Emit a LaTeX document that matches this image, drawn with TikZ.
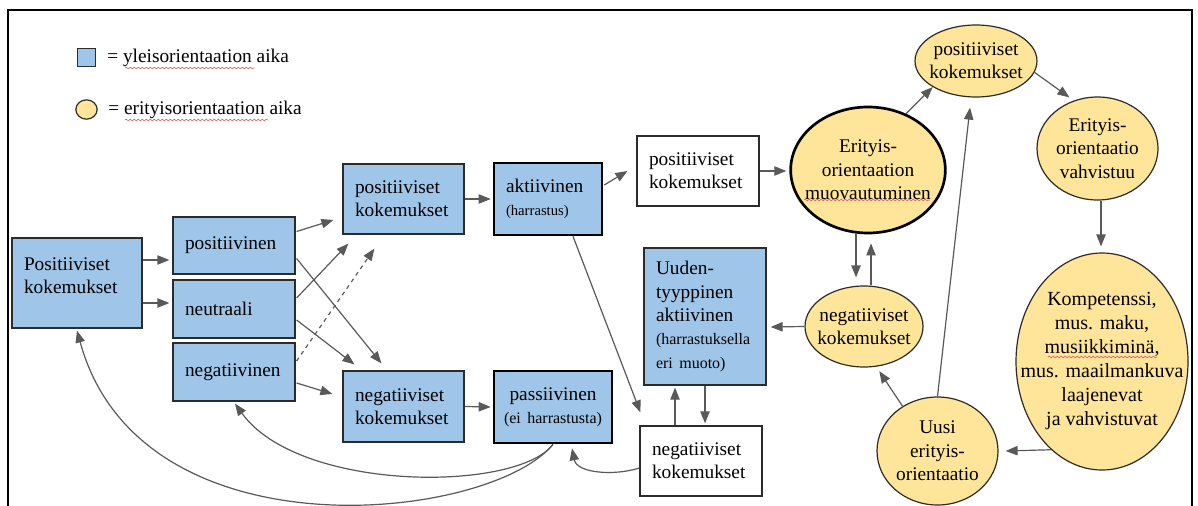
\documentclass[tikz,border=0pt]{standalone}
\usepackage{fontspec}
\setmainfont{Liberation Serif}
\usetikzlibrary{arrows.meta,positioning,calc,shapes.geometric,decorations.pathmorphing}
\definecolor{BoxBlue}{HTML}{9FC5E8}
\definecolor{OvalYellow}{HTML}{FFE599}
\definecolor{ArrGray}{HTML}{595959}
\definecolor{Edge}{HTML}{2B2B2B}
\definecolor{Squiggle}{HTML}{E06666}
\newcommand{\diagfont}{\fontsize{14.5}{17.5}\selectfont}
\newcommand{\notefont}{\fontsize{11}{13}\selectfont}
\newcommand{\midnotefont}{\fontsize{12}{14}\selectfont}
\tikzset{
  arr/.style={-{Triangle[length=9pt,width=7pt]},line width=0.9pt,draw=ArrGray},
  bluebox/.style={draw=Edge,fill=BoxBlue,line width=0.9pt,align=left,inner xsep=9pt,font=\diagfont},
  whitebox/.style={draw=Edge,fill=white,line width=0.9pt,align=left,inner xsep=9pt,font=\diagfont},
  keybox/.style={bluebox,draw=black,line width=2pt},
  oval/.style={ellipse,draw=Edge,fill=OvalYellow,line width=0.9pt,inner sep=0pt},
  ovaltext/.style={align=center,font=\diagfont},
  spell/.style={draw=Squiggle,line width=0.5pt,decorate,decoration={snake,amplitude=0.6pt,segment length=3pt}}
}
\begin{document}
\begin{tikzpicture}[x=0.75pt,y=-0.75pt]
  \useasboundingbox (0,0) rectangle (1198,506);
  \draw[line width=1.5pt] (8,506) -- (8,10) -- (1192,10) -- (1192,506);
  % legend
  \node[draw=Edge,fill=BoxBlue,line width=0.9pt,minimum size=14pt,inner sep=0pt] (keyblue) at (86.5,57.5) {};
  \node[anchor=base west,inner sep=0pt,font=\diagfont] (keybluetxt) at (107,63) {= yleisorientaation aika};
  \node[oval,minimum width=16pt,minimum height=14.5pt] (keyoval) at (86.5,109.5) {};
  \node[anchor=base west,inner sep=0pt,font=\diagfont] (keyovaltxt) at (108,115) {= erityisorientaation aika};
  \draw[spell] (125,68) -- (254,68);
  \draw[spell] (125,120) -- (268,120);
  % general orientation
  \node[bluebox,text width=79.5pt,minimum height=67.5pt] (poskok) at (77,283) {Positiiviset\\kokemukset\\[-6pt]\mbox{}};
  \node[bluebox,text width=73.5pt,minimum height=42.75pt] (posit) at (234,245.5) {positiivinen};
  \node[bluebox,text width=73.5pt,minimum height=43.5pt] (neutr) at (234,309) {neutraali};
  \node[bluebox,text width=73.5pt,minimum height=43.5pt] (negat) at (234,372) {negatiivinen};
  \node[bluebox,text width=72.75pt,minimum height=52.5pt] (poskok2) at (403.5,199) {positiiviset\\kokemukset};
  \node[bluebox,text width=72.75pt,minimum height=53.25pt] (negkok2) at (403.5,406.5) {negatiiviset\\kokemukset};
  \node[keybox,text width=63pt,minimum height=54pt] (aktiiv) at (548,199) {aktiivinen\\{\notefont(harrastus)}};
  \node[keybox,align=center,inner xsep=4pt,text width=80.5pt,minimum height=54pt] (passiiv) at (553,407) {passiivinen\\{\midnotefont(ei harrastusta)}};
  \node[whitebox,text width=73.5pt,minimum height=52.5pt] (poskok3) at (698,171) {positiiviset\\kokemukset};
  \node[bluebox,text width=73.5pt,minimum height=102.75pt] (uuden) at (705,316.5) {Uuden-\\tyyppinen\\aktiivinen\\{\midnotefont(harrastuksella}\\{\midnotefont eri muoto)}};
  \node[whitebox,text width=73.5pt,minimum height=52.5pt] (negkok3) at (701,461) {negatiiviset\\kokemukset};
  % special orientation
  \node[oval,draw=black,line width=2pt,minimum width=116pt,minimum height=94.5pt,label={[ovaltext]center:{Erityis-\\orientaation\\muovautuminen}}] (erimuov) at (868,170) {};
  \node[oval,minimum width=88.5pt,minimum height=60.75pt,label={[ovaltext]center:{negatiiviset\\kokemukset}}] (negell) at (864,326.5) {};
  \node[oval,minimum width=91.5pt,minimum height=54pt,label={[ovaltext]center:{positiiviset\\kokemukset}}] (posell) at (976,61) {};
  \node[oval,minimum width=90.75pt,minimum height=77.25pt,label={[ovaltext]center:{Erityis-\\orientaatio\\vahvistuu}}] (vahv) at (1097.5,148.5) {};
  \node[oval,minimum width=129pt,minimum height=162.75pt,label={[ovaltext,font=\fontsize{15}{18}\selectfont]center:{Kompetenssi,\\mus. maku,\\musiikkiminä,\\mus. maailmankuva\\laajenevat\\ja vahvistuvat}}] (kompet) at (1102,361.5) {};
  \node[oval,minimum width=90.75pt,minimum height=81pt,label={[ovaltext]center:{Uusi\\erityis-\\orientaatio}}] (uusi) at (937.5,451) {};
  \draw[spell] (804,200) -- (930,200);
  \draw[spell] (1048,357) -- (1157,357);
  % connectors
  \draw[arr] ($(poskok.east)+(0,-23)$) -- ($(posit.west)+(-3,14.5)$);
  \draw[arr] ($(poskok.east)+(0,20)$) -- ($(neutr.west)+(-3,-6)$);
  \draw[arr] ($(posit.east)+(1,-14)$) -- ($(poskok2.west)+(-9,21)$);
  \draw[arr] ($(posit.east)+(1,13)$) -- ($(negkok2.north west)+(39,-7)$);
  \draw[arr] ($(neutr.east)+(1,-11)$) -- ($(poskok2.south west)+(6,9)$);
  \draw[arr] ($(neutr.east)+(1,11)$) -- ($(negkok2.north west)+(12,-6)$);
  \draw[arr,dashed] ($(negat.east)+(1,-11)$) -- ($(poskok2.south west)+(32,14)$);
  \draw[arr] ($(negat.east)+(1,11)$) -- ($(negkok2.west)+(-10,-12.5)$);
  \draw[arr] (poskok2.east) -- ($(aktiiv.west)+(-2,0)$);
  \draw[arr] (negkok2.east) -- ($(passiiv.west)+(-2,0)$);
  \draw[arr] ($(aktiiv.east)+(1,-14)$) -- ($(poskok3.west)+(-9,0)$);
  \draw[arr] ($(aktiiv.south)+(25,0)$) -- ($(negkok3.north west)+(1,-13)$);
  \draw[arr] (passiiv.south) .. controls +(-63,77) and +(63,230) .. ($(poskok.south)+(0,2)$);
  \draw[arr] (passiiv.south) .. controls +(-36,48) and +(64,89) .. ($(negat.south)+(1,2)$);
  \draw[arr] ($(negkok3.west)+(0,7)$) .. controls +(-25,8) and +(5,25) .. ($(passiiv.south)+(19,4)$);
  \draw[arr] ($(negkok3.north)+(-26,0)$) -- ($(uuden.south)+(-30,2)$);
  \draw[arr] (uuden.south) -- ($(negkok3.north)+(4,-2)$);
  \draw[arr] (poskok3.east) -- ($(erimuov.west)+(-3,1)$);
  \draw[arr] ($(erimuov.south)+(-12,-1)$) -- ($(negell.north)+(-8,-8)$);
  \draw[arr] ($(negell.north)+(7,0)$) -- ($(erimuov.south)+(3,9)$);
  \draw[arr] (negell.west) -- ($(uuden.east)+(4,10.5)$);
  \draw[arr] (erimuov.56) -- (posell.211);
  \draw[arr] (posell.-11) -- ($(vahv.119)+(-2,-4)$);
  \draw[arr] ($(vahv.south)+(3.5,0)$) -- ($(kompet.north)+(-1,-6)$);
  \draw[arr] (kompet.240) -- ($(uusi.east)+(7,0)$);
  \draw[arr,shorten >=4pt] (uusi.128) -- (negell.-73);
  \draw[arr] (uusi.north) -- ($(posell.south)+(-6,10)$);
\end{tikzpicture}
\end{document}
